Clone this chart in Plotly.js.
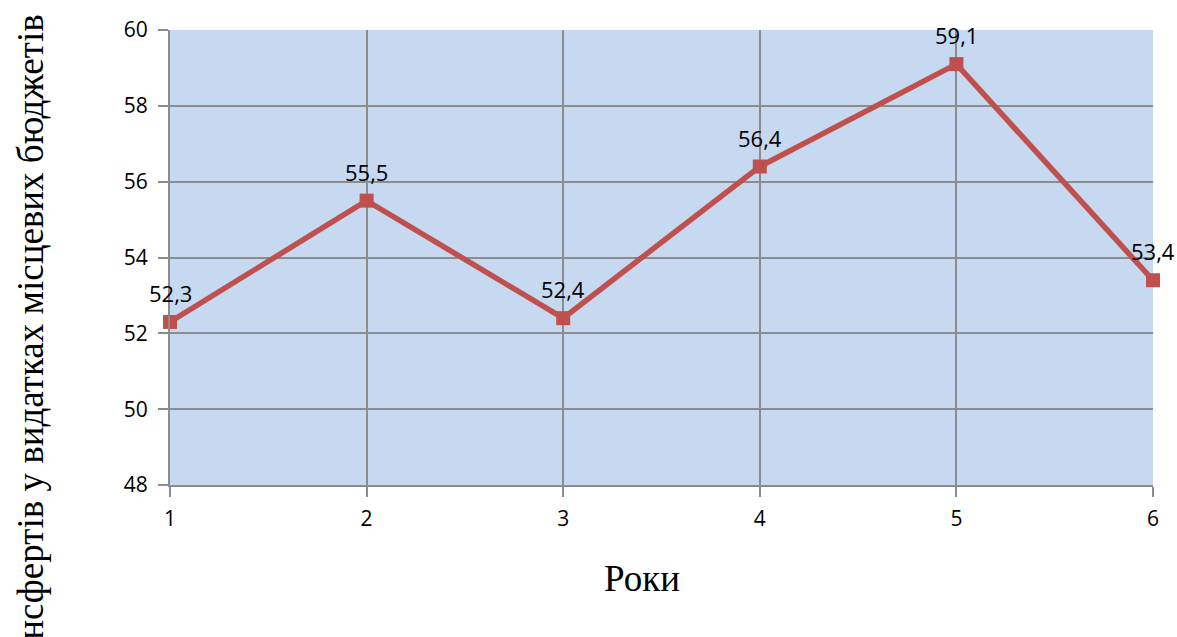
<!DOCTYPE html>
<html><head><meta charset="utf-8">
<script src="https://cdn.plot.ly/plotly-3.0.1.min.js"></script>
<style>html,body{margin:0;padding:0;background:#fff}#c{width:1177px;height:637px}</style>
</head><body><div id="c"></div>
<script>
const years = [1, 2, 3, 4, 5, 6];
const share = [52.3, 55.5, 52.4, 56.4, 59.1, 53.4];
const xTitle = "Роки";
const yTitle = "Частка трансфертів у видатках місцевих бюджетів";

const trace = {
  x: years, y: share, type: 'scatter', mode: 'lines+markers',
  line: {color: '#C0504D', width: 5.5},
  marker: {symbol: 'square', size: 14, color: '#C0504D'},
  cliponaxis: false, hoverinfo: 'none'
};
const labelAnns = years.map((x, i) => ({
  x: x, y: share[i], xref: 'x', yref: 'y',
  text: share[i].toFixed(1).replace('.', ','),
  showarrow: false, yshift: 29, xanchor: 'center', yanchor: 'middle',
  font: {family: 'Open Sans, sans-serif', size: 22, color: '#000'}
}));
const layout = {
  width: 1177, height: 637,
  margin: {l: 170, r: 24, t: 30, b: 152},
  paper_bgcolor: '#fff', plot_bgcolor: '#C6D9F1',
  showlegend: false,
  xaxis: {
    range: [1, 6], tickvals: years, ticks: 'outside', ticklen: 10, tickcolor: '#8c8c8c', tickwidth: 2,
    showgrid: true, gridcolor: '#8c8c8c', gridwidth: 2, showline: true, linecolor: '#8c8c8c', linewidth: 2,
    zeroline: false, ticklabelstandoff: 4, tickfont: {family: 'Open Sans, sans-serif', size: 21, color: '#000'}
  },
  yaxis: {
    range: [48, 60], dtick: 2, ticks: 'outside', ticklen: 10, tickcolor: '#8c8c8c', tickwidth: 2,
    showgrid: true, gridcolor: '#8c8c8c', gridwidth: 2, showline: true, linecolor: '#8c8c8c', linewidth: 2,
    zeroline: false, ticklabelstandoff: 6, tickfont: {family: 'Open Sans, sans-serif', size: 21, color: '#000'}
  },
  annotations: labelAnns.concat([{
    text: yTitle, textangle: -90, xref: 'paper', yref: 'paper',
    x: (30 - 170) / 983, y: (485 - 13) / 455, xanchor: 'center', yanchor: 'top',
    showarrow: false, font: {family: 'Liberation Serif, serif', size: 37, color: '#000'}
  }, {
    text: xTitle, xref: 'paper', yref: 'paper',
    x: (642 - 170) / 983, y: (485 - 578) / 455, xanchor: 'center', yanchor: 'middle',
    showarrow: false, font: {family: 'Liberation Serif, serif', size: 37, color: '#000'}
  }])
};
Plotly.newPlot('c', [trace], layout, {staticPlot: true});
</script></body></html>
